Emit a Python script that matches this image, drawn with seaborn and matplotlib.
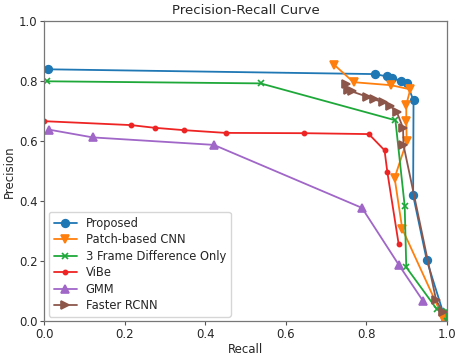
import matplotlib
matplotlib.use("Agg")
import matplotlib.pyplot as plt
import seaborn as sns

# Recall / precision points per method
proposed_r = [0.008, 0.822, 0.851, 0.863, 0.886, 0.900, 0.917, 0.916, 0.950, 0.995]
proposed_p = [0.840, 0.824, 0.816, 0.812, 0.801, 0.795, 0.736, 0.420, 0.203, 0.010]

cnn_r = [0.720, 0.768, 0.861, 0.909, 0.899, 0.899, 0.900, 0.870, 0.889, 0.990]
cnn_p = [0.855, 0.797, 0.787, 0.773, 0.722, 0.667, 0.600, 0.478, 0.308, 0.012]

frame_r = [0.007, 0.537, 0.872, 0.895, 0.899, 0.975, 0.998, 1.000]
frame_p = [0.800, 0.793, 0.670, 0.385, 0.180, 0.040, 0.035, 0.000]

vibe_r = [0.000, 0.215, 0.274, 0.348, 0.450, 0.646, 0.806, 0.845, 0.852, 0.880]
vibe_p = [0.667, 0.654, 0.645, 0.637, 0.628, 0.627, 0.624, 0.570, 0.497, 0.258]

gmm_r = [0.011, 0.120, 0.421, 0.789, 0.880, 0.940]
gmm_p = [0.639, 0.613, 0.588, 0.378, 0.189, 0.069]

rcnn_r = [0.750, 0.754, 0.764, 0.801, 0.818, 0.842, 0.859, 0.876, 0.891, 0.892, 0.973, 0.990]
rcnn_p = [0.790, 0.772, 0.766, 0.749, 0.740, 0.730, 0.718, 0.696, 0.644, 0.588, 0.071, 0.030]

series = [
    ("Proposed", proposed_r, proposed_p, "o", 5.5),
    ("Patch-based CNN", cnn_r, cnn_p, "v", 5.5),
    ("3 Frame Difference Only", frame_r, frame_p, "x", 5),
    ("ViBe", vibe_r, vibe_p, ".", 6),
    ("GMM", gmm_r, gmm_p, "^", 5.5),
    ("Faster RCNN", rcnn_r, rcnn_p, ">", 5.5),
]

sns.set_style("ticks")
plt.rcParams["font.family"] = ["DejaVu Sans"]
palette = ["#1f77b4", "#ff7f0e", "#1fa83a", "#ee2424", "#a066c8", "#8c564b"]

fig = plt.figure(figsize=(4.57, 3.55), dpi=100)
ax = fig.add_axes([0.097, 0.095, 0.881, 0.845])

for i, (name, r, p, mk, ms) in enumerate(series):
    sns.lineplot(x=r, y=p, ax=ax, sort=False, estimator=None, color=palette[i],
                 marker=mk, markersize=ms, markeredgecolor=palette[i],
                 markeredgewidth=1.2, linewidth=1.3, label=name)

ax.set_xlim(0, 1)
ax.set_ylim(0, 1)
ax.set_title("Precision-Recall Curve", fontsize=9.5, pad=5)
ax.set_xlabel("Recall", fontsize=8.5, labelpad=1)
ax.set_ylabel("Precision", fontsize=8.5, labelpad=2)
ax.tick_params(labelsize=8.5, length=3, pad=2, color="#555555")
for s in ax.spines.values():
    s.set_color("#777777")
    s.set_linewidth(0.9)

ax.legend(loc="lower left", fontsize=8.3, frameon=True, borderaxespad=0.4,
          labelspacing=0.3)

fig.savefig("out.png", dpi=100)
